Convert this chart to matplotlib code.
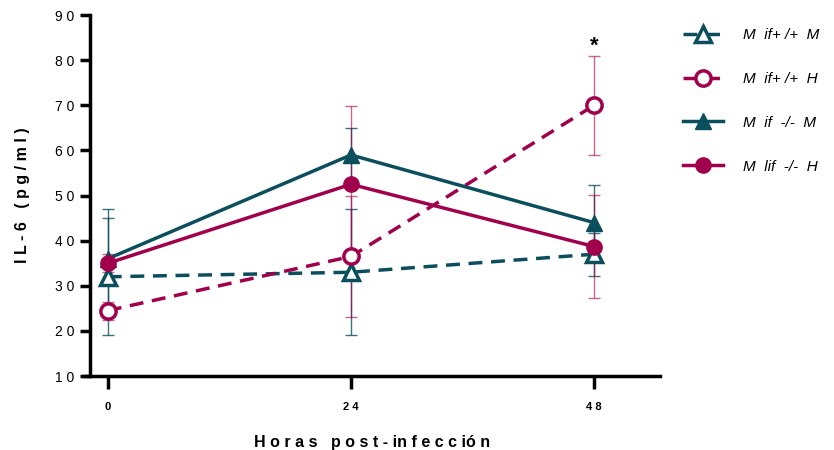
import numpy as np
import matplotlib.pyplot as plt

plt.rcParams['font.family'] = ['Liberation Sans', 'DejaVu Sans']

# Datos (IL-6, pg/ml)
horas = [0, 24, 48]
labels = ['M  if+ /+  M', 'M  if+ /+  H', 'M  if  -/-  M', 'M  lif  -/-  H']
wt_m = [32, 33, 37]
wt_m_err = [13, 14, 4.8]
wt_h = [24.5, 36.5, 70]
wt_h_err = [2, 13.5, 10.9]
ko_m = [36, 59, 44]
ko_m_err = [11, 6, 8.3]
ko_h = [35, 52.5, 38.7]
ko_h_err = [2, 17.3, 11.5]

teal = '#0b4f5e'
mag = '#a1004c'

fig = plt.figure(figsize=(8.34, 4.5), dpi=100)
ax = fig.add_axes([0.1007, 0.1644, 0.6906, 0.802])

ebkw = dict(elinewidth=1.0, capsize=4, capthick=1.0)

# Mif+/+ M
ax.errorbar(horas, wt_m, yerr=wt_m_err, fmt='none', ecolor=teal, alpha=0.8, **ebkw)
ax.plot(horas, wt_m, color=teal, lw=2.5, ls=(0, (4, 2.5)), marker='^', ms=11,
        mfc='white', mec=teal, mew=2.5, label=labels[0], zorder=4)
# Mif+/+ H
ax.errorbar(horas, wt_h, yerr=wt_h_err, fmt='none', ecolor=mag, alpha=0.6, **ebkw)
ax.plot(horas, wt_h, color=mag, lw=2.5, ls=(0, (4, 2.5)), marker='o', ms=11,
        mfc='white', mec=mag, mew=2.5, label=labels[1], zorder=4)
# Mif-/- M
ax.errorbar(horas, ko_m, yerr=ko_m_err, fmt='none', ecolor=teal, alpha=0.8, **ebkw)
ax.plot(horas, ko_m, color=teal, lw=2.5, marker='^', ms=11,
        mfc=teal, mec=teal, label=labels[2], zorder=5)
# Mif-/- H
ax.errorbar(horas, ko_h, yerr=ko_h_err, fmt='none', ecolor=mag, alpha=0.6, **ebkw)
ax.plot(horas, ko_h, color=mag, lw=2.5, marker='o', ms=11,
        mfc=mag, mec=mag, label=labels[3], zorder=5)

ax.text(48, 83, '*', ha='center', va='center', fontsize=16, fontweight='bold')

ax.set_xlim(-2.35, 54.5)
ax.set_ylim(10, 90)
ax.set_xticks(horas)
ax.set_xticklabels(['0', '2 4', '4 8'], fontweight='bold', fontsize=8)
ax.set_yticks(range(10, 91, 10))
ax.set_yticklabels([' '.join(str(v)) for v in range(10, 91, 10)],
                   fontweight='bold', fontsize=8)

for s in ['top', 'right']:
    ax.spines[s].set_visible(False)
for s in ['left', 'bottom']:
    ax.spines[s].set_linewidth(2.5)
ax.spines['left'].set_position(('axes', 0.01))
ax.tick_params(axis='y', length=7, width=2.5, pad=4)
ax.tick_params(axis='x', length=9, width=2.5, pad=10)

ax.set_xlabel('H o r a s   p o s t - in f e c c ió n', fontweight='bold',
              fontsize=11.5, labelpad=16)
ax.set_ylabel('I L - 6   ( p g / m l )', fontweight='bold', fontsize=11.5,
              labelpad=18)

leg = fig.legend(loc='upper left', bbox_to_anchor=(0.803, 0.968), frameon=False,
                 prop={'style': 'italic', 'size': 11},
                 handlelength=2.6, labelspacing=1.95, handletextpad=1.3)

fig.savefig('out.png', dpi=100)
